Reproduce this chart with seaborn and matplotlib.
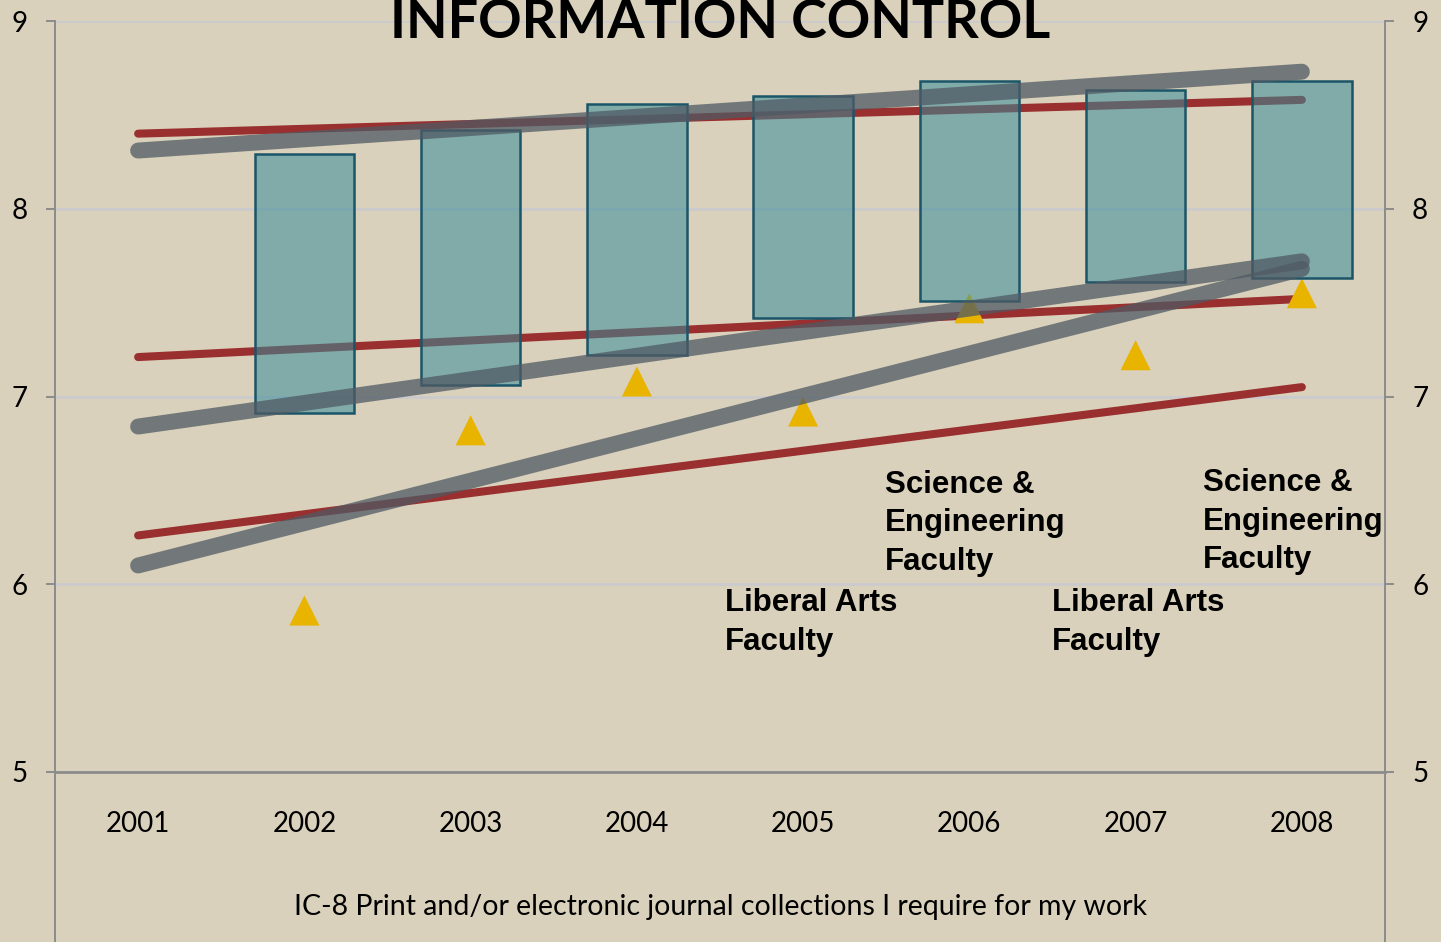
import numpy as np
import pandas as pd
import matplotlib
matplotlib.use("Agg")
import matplotlib.pyplot as plt
import seaborn as sns

# data
years = [2001, 2002, 2003, 2004, 2005, 2006, 2007, 2008]
bar_years = [2002, 2003, 2004, 2005, 2006, 2007, 2008]
bar_low = [6.91, 7.06, 7.22, 7.42, 7.51, 7.61, 7.63]
bar_high = [8.29, 8.42, 8.56, 8.60, 8.68, 8.63, 8.68]
tri_values = [5.86, 6.82, 7.08, 6.92, 7.47, 7.22, 7.55]

# trend lines (value in 2001, value in 2008)
line_years = [2001, 2008]
red_top = [8.40, 8.58]
red_mid = [7.21, 7.52]
red_low = [6.26, 7.05]
gray_top = [8.31, 8.73]
gray_mid = [6.84, 7.72]
gray_low = [6.10, 7.68]

bg = "#d9d1bb"
axis_gray = "#8c8c8c"

sns.set_theme(style="white")
plt.rcParams["font.family"] = ["Lato", "DejaVu Sans"]
plt.rcParams["text.color"] = "black"

red_df = pd.DataFrame({
    "year": line_years * 3,
    "value": red_top + red_mid + red_low,
    "line": ["top"] * 2 + ["mid"] * 2 + ["low"] * 2,
})
gray_df = pd.DataFrame({
    "year": line_years * 3,
    "value": gray_top + gray_mid + gray_low,
    "line": ["top"] * 2 + ["mid"] * 2 + ["low"] * 2,
})

fig = plt.figure(figsize=(14.41, 9.42), dpi=100)
fig.patch.set_facecolor(bg)
ax = fig.add_axes([55 / 1441, 170 / 942, 1330 / 1441, 751 / 942])
ax.set_facecolor(bg)

# red trend lines
sns.lineplot(data=red_df, x="year", y="value", units="line", estimator=None,
             color="#9a2f2f", lw=5.8, solid_capstyle="round", zorder=2, ax=ax)

# yellow triangles
sns.scatterplot(x=bar_years, y=tri_values, marker="^", s=470, color="#e9b400",
                edgecolor="none", linewidth=0, zorder=3, ax=ax)

# floating bars
ax.bar(bar_years, np.subtract(bar_high, bar_low), bottom=bar_low, width=0.6,
       facecolor=(0.22, 0.55, 0.60, 0.55), edgecolor="#1b5568", linewidth=1.8,
       zorder=4)

# gray trend lines
sns.lineplot(data=gray_df, x="year", y="value", units="line", estimator=None,
             color="#505a64", alpha=0.75, lw=11.5, solid_capstyle="round",
             zorder=5, ax=ax)

ax.set_xlim(2000.5, 2008.5)
ax.set_ylim(5, 9)
ax.set_xlabel("")
ax.set_ylabel("")

ax.set_yticks([5, 6, 7, 8, 9])
ax.set_yticklabels(["5", "6", "7", "8", "9"])
ax.set_axisbelow(True)
ax.yaxis.grid(True, color="#cacacf", lw=1.8)
ax.xaxis.grid(False)
ax.tick_params(axis="y", left=True, right=True, labelleft=True, labelright=True,
               direction="out", length=6.5, width=1.4, color=axis_gray,
               labelsize=20, pad=13, labelcolor="black")

ax.set_xticks(years)
ax.set_xticklabels([str(y) for y in years])
ax.set_xticks([y + 0.5 for y in years[:-1]], minor=True)
ax.tick_params(axis="x", which="major", length=0, pad=28, labelsize=20,
               labelcolor="black")
ax.tick_params(axis="x", which="minor", direction="out", length=62, width=1.4,
               color=axis_gray)

for side in ["left", "right"]:
    ax.spines[side].set_color(axis_gray)
    ax.spines[side].set_linewidth(1.4)
ax.spines["bottom"].set_color(axis_gray)
ax.spines["bottom"].set_linewidth(2)
ax.spines["top"].set_visible(False)

# frame lines continue down past the category axis
for xa in [0, 1]:
    ax.plot([xa, xa], [-0.23, 0], transform=ax.transAxes, clip_on=False,
            color=axis_gray, lw=1.4)

ann = dict(fontsize=22.5, fontweight="bold", family=["Liberation Sans", "DejaVu Sans"],
           va="top", ha="left", linespacing=1.38, color="black", zorder=6)
ax.text(2005.49, 6.61, "Science &\nEngineering\nFaculty", **ann)
ax.text(2007.405, 6.62, "Science &\nEngineering\nFaculty", **ann)
ax.text(2004.53, 5.98, "Liberal Arts\nFaculty", **ann)
ax.text(2006.497, 5.98, "Liberal Arts\nFaculty", **ann)

fig.text(0.4997, (942 - 38) / 942, "INFORMATION CONTROL", ha="center",
         va="baseline", fontsize=38.8, fontweight="bold", color="black")
fig.text(0.4997, (942 - 907) / 942,
         "IC-8 Print and/or electronic journal collections I require for my work",
         ha="center", va="center", fontsize=20.5, color="black")

fig.savefig("out.png", dpi=100, facecolor=bg)
